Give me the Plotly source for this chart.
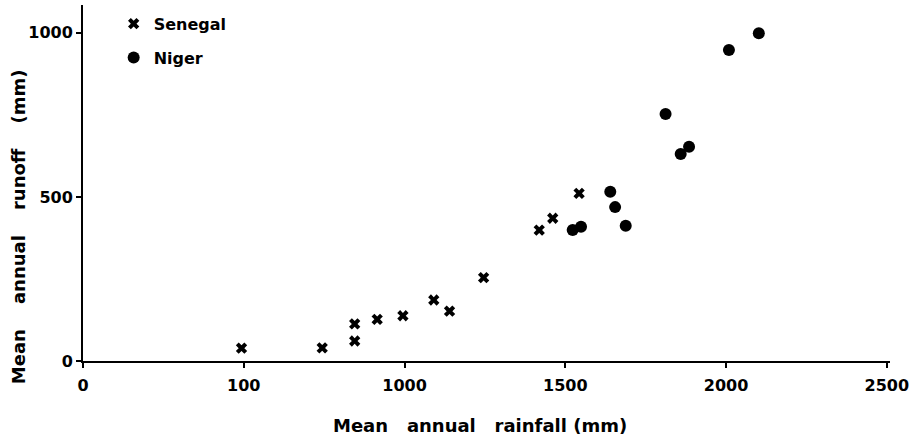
import plotly.graph_objects as go

# Data
senegal_rain = [493, 744, 845, 845, 915, 995, 1091, 1140, 1246, 1419, 1461, 1543]
senegal_runoff = [39, 40, 113, 61, 127, 138, 186, 152, 254, 399, 435, 511]

niger_rain = [1523, 1549, 1640, 1655, 1688, 1812, 1859, 1885, 2009, 2102]
niger_runoff = [399, 409, 516, 469, 412, 753, 631, 653, 948, 999]

x_tickvals = [0, 500, 1000, 1500, 2000, 2500]
x_ticktext = ["0", "100", "1000", "1500", "2000", "2500"]
y_tickvals = [0, 500, 1000]
y_ticktext = ["0", "500", "1000"]

FONT = "DejaVu Sans"
SP = "\u00a0"

fig = go.Figure()
fig.add_trace(go.Scatter(
    x=senegal_rain, y=senegal_runoff, mode="markers", name="Senegal", legendgroup="a",
    marker=dict(symbol="x", size=10, color="black", line=dict(width=0)),
))
fig.add_trace(go.Scatter(
    x=niger_rain, y=niger_runoff, mode="markers", name="Niger", legendgroup="b",
    marker=dict(symbol="circle", size=12, color="black"),
))

fig.update_layout(
    width=914, height=440,
    margin=dict(l=83, r=24, t=5, b=79),
    paper_bgcolor="white", plot_bgcolor="white",
    font=dict(family=FONT, color="black", size=16, weight="bold"),
    showlegend=True,
    legend=dict(x=0.038, y=0.995, xanchor="left", yanchor="top",
                bgcolor="rgba(0,0,0,0)",
                font=dict(size=16, family=FONT, weight="bold"),
                itemsizing="trace", tracegroupgap=10),
    xaxis=dict(
        range=[0, 2510], showgrid=False, zeroline=False,
        showline=True, linecolor="black", linewidth=2,
        ticks="outside", ticklen=5, tickwidth=2, tickcolor="black",
        tickvals=x_tickvals, ticktext=x_ticktext, ticklabelstandoff=4,
        tickfont=dict(size=16, family=FONT, weight="bold"),
    ),
    yaxis=dict(
        range=[0, 1085], showgrid=False, zeroline=False,
        showline=True, linecolor="black", linewidth=2,
        ticks="outside", ticklen=5, tickwidth=2, tickcolor="black",
        tickvals=y_tickvals, ticktext=y_ticktext,
        tickfont=dict(size=16, family=FONT, weight="bold"),
    ),
    annotations=[
        dict(text="Mean" + SP * 3 + "annual" + SP * 3 + "rainfall" + SP + "(mm)",
             xref="paper", yref="paper",
             x=0.492, y=-0.18, xanchor="center", yanchor="middle", showarrow=False,
             font=dict(size=18, family=FONT, weight="bold")),
        dict(text="Mean" + SP * 4 + "annual" + SP * 4 + "runoff" + SP * 4 + "(mm)",
             xref="paper", yref="paper",
             x=-0.0805, y=0.376, xanchor="center", yanchor="middle", showarrow=False,
             textangle=-90, font=dict(size=18, family=FONT, weight="bold")),
    ],
)

fig.write_html("out.html")
